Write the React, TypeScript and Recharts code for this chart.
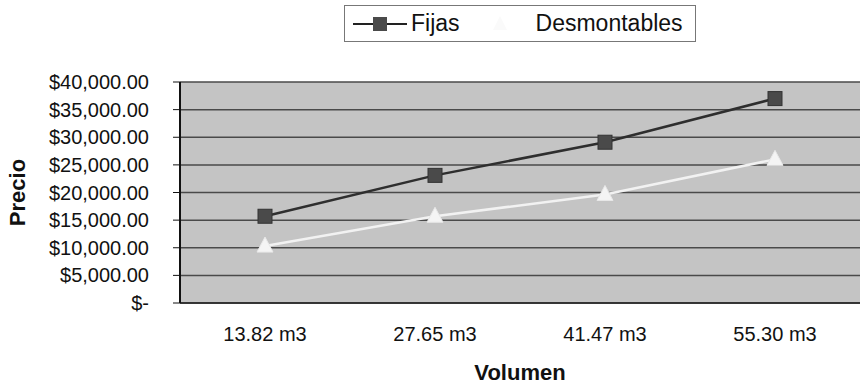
import React from "react";
import {
  LineChart,
  Line,
  XAxis,
  YAxis,
  CartesianGrid,
} from "recharts";

const categories = ["13.82 m3", "27.65 m3", "41.47 m3", "55.30 m3"];
const fijas = [15700, 23100, 29100, 37000];
const desmontables = [10300, 15700, 19650, 26000];
const yTicks = [0, 5000, 10000, 15000, 20000, 25000, 30000, 35000, 40000];

const data = categories.map((c, i) => ({
  volumen: c,
  Fijas: fijas[i],
  Desmontables: desmontables[i],
}));

const FONT = "'Liberation Sans', Arial, sans-serif";

const formatPrice = (v: number) =>
  v === 0
    ? "$-"
    : "$" + v.toLocaleString("en-US", { minimumFractionDigits: 2, maximumFractionDigits: 2 });

const SquareDot = (props: any) => {
  const { cx, cy } = props;
  if (cx == null || cy == null) return null;
  return <rect x={cx - 7} y={cy - 7} width={14} height={14} fill="#4a4a4a" stroke="#333" strokeWidth={1} />;
};

const TriangleDot = (props: any) => {
  const { cx, cy } = props;
  if (cx == null || cy == null) return null;
  return (
    <polygon
      points={`${cx},${cy - 9} ${cx - 8},${cy + 6} ${cx + 8},${cy + 6}`}
      fill="#f4f4f4"
      stroke="#e8e8e8"
    />
  );
};

// rotated axis title, centred on the plot height
const PrecioLabel = (props: any) => {
  const vb = props.viewBox || {};
  const cy = (vb.y ?? 82) + (vb.height ?? 221) / 2;
  const cx = 17;
  return (
    <text
      x={cx}
      y={cy}
      transform={`rotate(-90 ${cx} ${cy})`}
      textAnchor="middle"
      dominantBaseline="central"
      fill="#111"
      fontSize={22}
      fontWeight="bold"
      fontFamily={FONT}
    >
      Precio
    </text>
  );
};

// legend box drawn by hand, sits above the chart like the spreadsheet one
const LegendBox = () => (
  <div
    style={{
      position: "absolute",
      top: 5,
      left: 344,
      width: 352,
      height: 37,
      boxSizing: "border-box",
      border: "1px solid #777",
      background: "#fff",
      display: "flex",
      alignItems: "center",
      fontFamily: FONT,
      fontSize: 23,
      color: "#111",
    }}
  >
    <svg width={58} height={20} style={{ marginLeft: 6 }}>
      <line x1={2} y1={10} x2={56} y2={10} stroke="#222" strokeWidth={2} />
      <rect x={22} y={3} width={14} height={14} fill="#4a4a4a" />
    </svg>
    <span style={{ marginLeft: 2 }}>Fijas</span>
    <svg width={72} height={20} style={{ marginLeft: 4 }}>
      <line x1={2} y1={10} x2={70} y2={10} stroke="#fff" strokeWidth={2} />
      <polygon points="36,2 29,16 43,16" fill="#fafafa" />
    </svg>
    <span>Desmontables</span>
  </div>
);

export default function App() {
  return (
    <div style={{ width: 860, height: 387, background: "#fff", position: "relative" }}>
      <style>{`body{margin:0}`}</style>
      <LineChart
        width={860}
        height={387}
        data={data}
        margin={{ top: 82, right: 0, left: 0, bottom: 0 }}
      >
        <CartesianGrid
          horizontal
          vertical={false}
          fill="#c4c4c4"
          stroke="#4a4a4a"
          strokeWidth={1.5}
        />
        <XAxis
          dataKey="volumen"
          padding={{ left: 85, right: 85 }}
          axisLine={{ stroke: "#222", strokeWidth: 1.5 }}
          tickLine={false}
          height={84}
          tickMargin={18}
          tick={{ fill: "#111", fontSize: 20, fontFamily: FONT }}
          label={{
            value: "Volumen",
            position: "insideBottom",
            offset: 7,
            fill: "#111",
            fontSize: 22,
            fontWeight: "bold",
            fontFamily: FONT,
          }}
        />
        <YAxis
          domain={[0, 40000]}
          ticks={yTicks}
          interval={0}
          width={180}
          tickSize={7}
          tickMargin={24}
          tickFormatter={formatPrice}
          axisLine={{ stroke: "#111", strokeWidth: 2 }}
          tickLine={{ stroke: "#111" }}
          tick={{ fill: "#111", fontSize: 20, fontFamily: FONT }}
          label={<PrecioLabel />}
        />
        <Line
          type="linear"
          dataKey="Fijas"
          stroke="#2e2e2e"
          strokeWidth={2.5}
          dot={<SquareDot />}
          isAnimationActive={false}
        />
        <Line
          type="linear"
          dataKey="Desmontables"
          stroke="#f2f2f2"
          strokeWidth={2.5}
          dot={<TriangleDot />}
          isAnimationActive={false}
        />
      </LineChart>
      <LegendBox />
    </div>
  );
}
